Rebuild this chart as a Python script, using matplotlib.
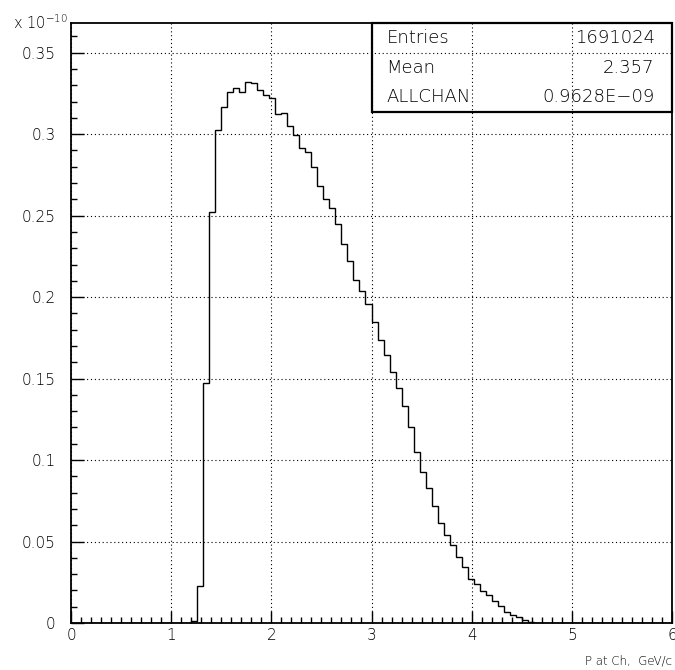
import matplotlib
matplotlib.use("Agg")
import matplotlib.pyplot as plt
from matplotlib.patches import Rectangle
from matplotlib.ticker import MultipleLocator, FuncFormatter
import numpy as np

# Histogram: 100 bins of 0.06 GeV/c over 0..6, contents in units of 1e-10
N_BINS = 100
X_MIN, X_MAX = 0.0, 6.0
FIRST_BIN = 20  # bin [1.20, 1.26)
CONTENTS = [
    0.0010, 0.0230, 0.1470, 0.2523, 0.3026, 0.3164, 0.3260, 0.3282,
    0.3258, 0.3319, 0.3317, 0.3270, 0.3239, 0.3219, 0.3123, 0.3131,
    0.3051, 0.2992, 0.2914, 0.2890, 0.2798, 0.2679, 0.2601, 0.2546,
    0.2448, 0.2325, 0.2219, 0.2106, 0.2035, 0.1959, 0.1849, 0.1738,
    0.1646, 0.1540, 0.1442, 0.1329, 0.1204, 0.1051, 0.0926, 0.0828,
    0.0720, 0.0612, 0.0541, 0.0478, 0.0402, 0.0343, 0.0269, 0.0239,
    0.0194, 0.0169, 0.0133, 0.0102, 0.0067, 0.0051, 0.0035, 0.0016,
    0.0006, 0.0002,
]

STATS_LABELS = ["Entries", "Mean", "ALLCHAN"]
STATS_VALUES = ["1691024", "2.357", "0.9628E\u221209"]

X_LABEL = "P at Ch,  GeV/c"
Y_MAX = 0.3684

plt.rcParams["font.family"] = ["DejaVu Sans"]
plt.rcParams["font.weight"] = "light"

fig = plt.figure(figsize=(6.75, 6.70), dpi=100)
ax = fig.add_axes([71 / 675, 1 - 623 / 670, 601 / 675, 600.3 / 670])

edges = np.linspace(X_MIN, X_MAX, N_BINS + 1)
counts = np.zeros(N_BINS)
counts[FIRST_BIN:FIRST_BIN + len(CONTENTS)] = CONTENTS
ax.stairs(counts, edges, color="black", linewidth=1.0)

ax.set_xlim(X_MIN, X_MAX)
ax.set_ylim(0, Y_MAX)

ax.xaxis.set_major_locator(MultipleLocator(1))
ax.xaxis.set_minor_locator(MultipleLocator(0.1))
ax.yaxis.set_major_locator(MultipleLocator(0.05))
ax.yaxis.set_minor_locator(MultipleLocator(0.01))
ax.yaxis.set_major_formatter(FuncFormatter(lambda v, p: f"{v:g}"))
ax.tick_params(which="both", direction="in", top=False, right=False,
               width=1.0, colors="black", labelsize=11)
ax.tick_params(which="major", length=9)
ax.tick_params(which="minor", length=4.5)
ax.tick_params(axis="y", pad=11)
ax.tick_params(axis="x", pad=3.5)

ax.grid(True, which="major", color="black", linestyle=(0, (1, 2.5)),
        linewidth=0.8)
for s in ax.spines.values():
    s.set_linewidth(1.3)

# stats box (transparent, grid shows through)
ax.add_patch(Rectangle((0.5, 0.851), 0.5, 0.149, transform=ax.transAxes,
                       fill=False, edgecolor="black", linewidth=1.6,
                       zorder=5, clip_on=False))
rows_y = [0.974, 0.924, 0.877]
for lab, val, yy in zip(STATS_LABELS, STATS_VALUES, rows_y):
    ax.text(0.525, yy, lab, transform=ax.transAxes, ha="left", va="center",
            fontsize=13, color="black")
    ax.text(0.971, yy, val, transform=ax.transAxes, ha="right", va="center",
            fontsize=13, color="black")

fig.text(13 / 675, 1 - 29 / 670, "x 10$^{-10}$", fontsize=10.5,
         ha="left", va="baseline", color="black")
fig.text(672 / 675, 1 - 660 / 670, X_LABEL, fontsize=8.5,
         ha="right", va="center", color="black")

fig.savefig("out.png", dpi=100)
